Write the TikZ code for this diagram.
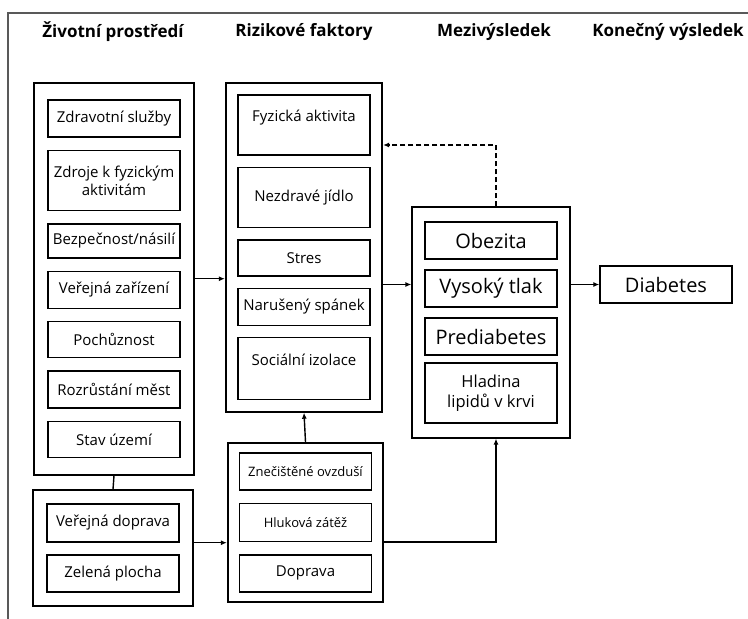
\documentclass[tikz,border=0pt]{standalone}
\usepackage{fontspec}
\setmainfont{Open Sans}
\usetikzlibrary{arrows.meta, positioning, fit, calc}

\begin{document}
\begin{tikzpicture}[x=1pt, y=-1pt,
    skupina/.style={draw, line width=1.8pt, inner sep=0pt},
    polozka/.style={draw, line width=1.4pt, minimum width=132pt, inner sep=1pt, align=center, font=\fontsize{15}{18}\selectfont},
    velka/.style={polozka, font=\fontsize{20}{22}\selectfont},
    mala/.style={polozka, font=\fontsize{13}{16}\selectfont},
    nadpis/.style={font=\fontsize{17}{19}\selectfont\bfseries},
    sipka/.style={line width=1.4pt, -{Latex[length=6pt, width=5pt]}}]
    \useasboundingbox (0,0) rectangle (748,619);
    \draw[black!65, line width=1.5pt] (8,619) -- (8,13) -- (748,13);

    % nadpisy sloupcu
    \node[nadpis] (n1) at (113,32) {Životní prostředí};
    \node[nadpis] (n2) at (304,32) {Rizikové faktory};
    \node[nadpis] (n3) at (494,32) {Mezivýsledek};
    \node[nadpis] (n4) at (668,32) {Konečný výsledek};

    % zivotni prostredi
    \node[polozka, minimum height=37pt] (zdrav) at (114,118.5) {Zdravotní služby};
    \node[polozka, minimum height=60pt, below=12pt of zdrav] (zdroje) {Zdroje k fyzickým\\aktivitám};
    \node[polozka, minimum height=34pt, below=12pt of zdroje] (bezpec) {Bezpečnost/násilí};
    \node[polozka, minimum height=37pt, below=12pt of bezpec] (zariz) {Veřejná zařízení};
    \node[polozka, minimum height=36pt, below=12pt of zariz] (pochuz) {Pochůznost};
    \node[polozka, minimum height=37pt, below=12pt of pochuz] (rozrust) {Rozrůstání měst};
    \node[polozka, minimum height=36pt, below=12pt of rozrust] (stav) {Stav území};
    \node[skupina, fit=(zdrav)(stav), inner xsep=13.5pt, inner ysep=16.5pt] (prostredi) {};

    \node[polozka, minimum height=38pt] (vdoprava) at (113,523) {Veřejná doprava};
    \node[polozka, minimum height=37pt, below=11.6pt of vdoprava] (zelen) {Zelená plocha};
    \node[skupina, fit=(vdoprava)(zelen), inner sep=13pt] (doprava) {};

    % rizikove faktory
    \node[polozka, minimum height=60pt] (fyz) at (304,125) {Fyzická aktivita\\ \mbox{}};
    \node[polozka, minimum height=60pt, below=11pt of fyz] (jidlo) {Nezdravé jídlo};
    \node[polozka, minimum height=36pt, below=11pt of jidlo] (stres) {Stres};
    \node[polozka, minimum height=37pt, below=11pt of stres] (spanek) {Narušený spánek};
    \node[polozka, minimum height=62pt, below=11pt of spanek] (izol) {Sociální izolace\\ \mbox{}};
    \node[skupina, fit=(fyz)(izol), inner sep=11.5pt] (faktory) {};

    \node[mala, minimum height=37pt] (ovzdusi) at (305.5,471.5) {Znečištěné ovzduší};
    \node[mala, minimum height=38pt, below=12pt of ovzdusi] (hluk) {Hluková zátěž};
    \node[polozka, minimum height=37pt, below=12pt of hluk] (prov) {Doprava};
    \node[skupina, fit=(ovzdusi)(prov), inner xsep=11pt, inner ysep=9.5pt] (prostr) {};

    % mezivysledek
    \node[velka, minimum height=37pt] (obez) at (491,240.5) {Obezita};
    \node[velka, minimum height=37pt, below=9.6pt of obez] (tlak) {Vysoký tlak};
    \node[velka, minimum height=37pt, below=9.6pt of tlak] (prediab) {Prediabetes};
    \node[polozka, minimum height=60pt, below=6.6pt of prediab, font=\fontsize{16.5}{20}\selectfont] (lipid) {Hladina\\lipidů v krvi};
    \node[skupina, fit=(obez)(lipid), inner xsep=12pt, inner ysep=14pt] (mezi) {};

    % konecny vysledek
    \node[velka, minimum height=37pt] (diab) at (666,284.5) {Diabetes};

    \draw[sipka] (prostredi.east) -- (prostredi.east -| faktory.west);
    \draw[line width=1.4pt] (prostredi.south) -- (doprava.north);
    \draw[sipka] (vdoprava.south -| doprava.east) -- (vdoprava.south -| prostr.west);
    \draw[sipka] (prostr.north) -- (faktory.south);
    \draw[sipka] (faktory.east |- diab.west) -- (mezi.west |- diab.west);
    \draw[sipka] (hluk.south -| prostr.east) -| ([xshift=5pt]mezi.south);
    \draw[sipka, dash pattern=on 5pt off 3pt] ([xshift=5pt]mezi.north) |- (faktory.east |- 0,145);
    \draw[sipka] (mezi.east |- diab.west) -- (diab.west);
\end{tikzpicture}
\end{document}
